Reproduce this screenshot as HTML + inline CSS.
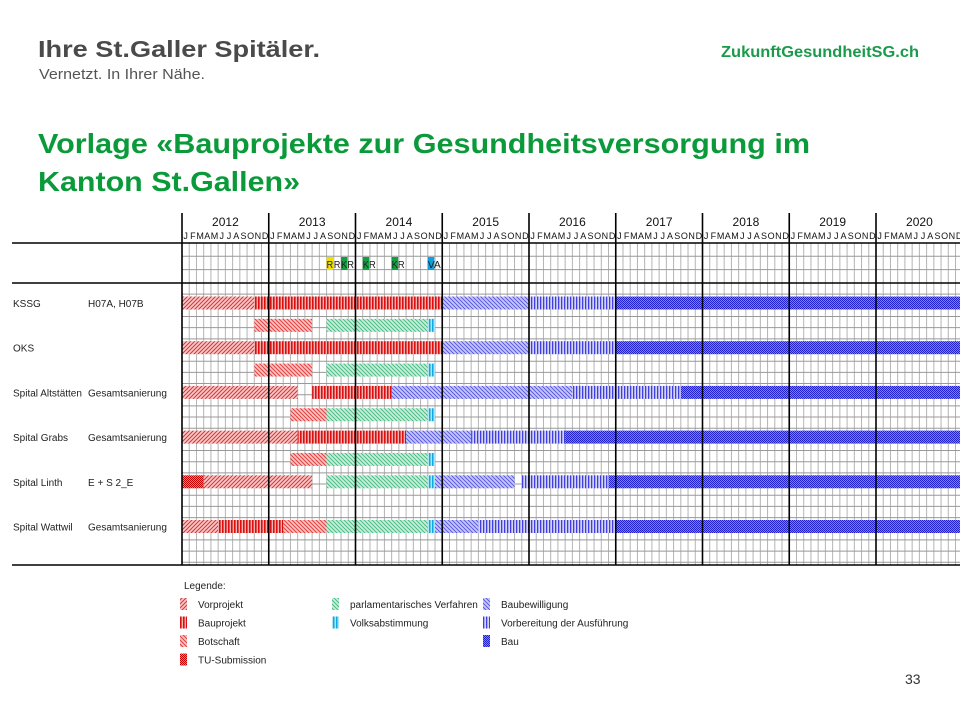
<!DOCTYPE html>
<html><head><meta charset="utf-8"><style>
html,body{margin:0;padding:0;background:#fff;width:960px;height:720px;overflow:hidden}
svg{display:block;font-family:"Liberation Sans",sans-serif}
</style></head><body>
<svg id="s" width="960" height="720" viewBox="0 0 960 720" xmlns="http://www.w3.org/2000/svg">
<defs>
<pattern id="p-vorprojekt" width="4" height="4" patternUnits="userSpaceOnUse"><rect width="4" height="4" fill="#f6c9c9"/><path d="M-1,1 L1,-1 M0,4 L4,0 M3,5 L5,3" stroke="#e03030" stroke-width="1"/></pattern>
<pattern id="p-bauprojekt" width="3" height="4" patternUnits="userSpaceOnUse"><rect width="3" height="4" fill="#f4b0b0"/><rect width="1.6" height="4" fill="#d81010"/></pattern>
<pattern id="p-botschaft" width="4" height="4" patternUnits="userSpaceOnUse"><rect width="4" height="4" fill="#f7c4c4"/><path d="M-1,3 L1,5 M0,0 L4,4 M3,-1 L5,1" stroke="#e04040" stroke-width="1"/></pattern>
<pattern id="p-tu" width="2" height="2" patternUnits="userSpaceOnUse"><rect width="2" height="2" fill="#f08080"/><rect width="1" height="1" fill="#c80000"/><rect x="1" y="1" width="1" height="1" fill="#c80000"/></pattern>
<pattern id="p-parl" width="4" height="4" patternUnits="userSpaceOnUse"><rect width="4" height="4" fill="#c9ecd9"/><path d="M-1,3 L1,5 M0,0 L4,4 M3,-1 L5,1" stroke="#40b880" stroke-width="0.9"/></pattern>
<pattern id="p-volks" width="3" height="4" patternUnits="userSpaceOnUse"><rect width="3" height="4" fill="#b0e4f4"/><rect width="1.5" height="4" fill="#10a8e0"/></pattern>
<pattern id="p-baubew" width="4" height="4" patternUnits="userSpaceOnUse"><rect width="4" height="4" fill="#c6c6f4"/><path d="M-1,3 L1,5 M0,0 L4,4 M3,-1 L5,1" stroke="#5050e0" stroke-width="0.9"/></pattern>
<pattern id="p-vorber" width="3" height="4" patternUnits="userSpaceOnUse"><rect width="3" height="4" fill="#d4d4f8"/><rect width="1.3" height="4" fill="#4040e0"/></pattern>
<pattern id="p-bau" width="2" height="2" patternUnits="userSpaceOnUse"><rect width="2" height="2" fill="#8080f0"/><rect width="1" height="1" fill="#2020d0"/><rect x="1" y="1" width="1" height="1" fill="#2020d0"/></pattern>
</defs>
<text x="38" y="57" font-size="23" font-weight="bold" fill="#4a4a4a" textLength="282" lengthAdjust="spacingAndGlyphs">Ihre St.Galler Spitäler.</text>
<text x="39" y="79" font-size="15" fill="#555" textLength="166" lengthAdjust="spacingAndGlyphs">Vernetzt. In Ihrer Nähe.</text>
<text x="721" y="57" font-size="16" font-weight="bold" fill="#1a9a4a" textLength="198" lengthAdjust="spacingAndGlyphs">ZukunftGesundheitSG.ch</text>
<text x="38" y="153" font-size="28" font-weight="bold" fill="#0a9a3a" textLength="772" lengthAdjust="spacingAndGlyphs">Vorlage «Bauprojekte zur Gesundheitsversorgung im</text>
<text x="38" y="191" font-size="28" font-weight="bold" fill="#0a9a3a" textLength="262" lengthAdjust="spacingAndGlyphs">Kanton St.Gallen»</text>
<g id="chart"></g>
<text x="905" y="684" font-size="14" fill="#333">33</text>
</svg>
<script>
const years = ["2012","2013","2014","2015","2016","2017","2018","2019","2020"];
const monthLetters = ["J","F","M","A","M","J","J","A","S","O","N","D"];
const projects = ["KSSG","OKS","Spital Altstätten","Spital Grabs","Spital Linth","Spital Wattwil"];
const projectNotes = ["H07A, H07B","","Gesamtsanierung","Gesamtsanierung","E + S 2_E","Gesamtsanierung"];
// tasks: [row index, phase, start month (0=Jan 2012), end month]
const taskRows = [0,0,0,0,0, 1,1,1, 2,2,2,2,2, 3,3,3, 4,4,4,4,4, 5,5,5, 6,6,6,6,6, 7,7,7, 8,8,8,8,8,8,8, 10,10,10,10,10,10,10,10];
const taskPhases = ["vorprojekt","bauprojekt","baubew","vorber","bau", "botschaft","parl","volks",
 "vorprojekt","bauprojekt","baubew","vorber","bau", "botschaft","parl","volks",
 "vorprojekt","bauprojekt","baubew","vorber","bau", "botschaft","parl","volks",
 "vorprojekt","bauprojekt","baubew","vorber","bau", "botschaft","parl","volks",
 "tu","vorprojekt","parl","volks","baubew","vorber","bau",
 "vorprojekt","bauprojekt","botschaft","parl","volks","baubew","vorber","bau"];
const taskStarts = [0,10,36,48,60, 10,20,34, 0,10,36,48,60, 10,20,34, 0,18,29,54,69, 15,20,34, 0,16,31,40,53, 15,20,34, 0,3,20,34,35,47,59, 0,5,14,20,34,35,41,60];
const taskEnds = [10,36,48,60,108, 18,34,35, 10,36,48,60,108, 18,34,35, 16,29,54,69,108, 20,34,35, 16,31,40,53,108, 20,34,35, 3,18,34,35,46,59,108, 5,14,20,34,35,41,60,108];
const markerMonths = [20,21,22,25,29,34];
const markerLabels = ["R","R","K","K","K","V"];
const markerSuffix = ["","","R","R","R","A"];
const markerColors = ["#f0e000","","#10a040","#10a040","#10a040","#10a0e0"];
const legendNames = ["Vorprojekt","Bauprojekt","Botschaft","TU-Submission","parlamentarisches Verfahren","Volksabstimmung","Baubewilligung","Vorbereitung der Ausführung","Bau"];
const legendKeys = ["vorprojekt","bauprojekt","botschaft","tu","parl","volks","baubew","vorber","bau"];

const NS="http://www.w3.org/2000/svg";
const g=document.getElementById('chart');
const X0=182, MW=86.75/12, TOP=213, BOT=565, HL=243, HL2=283;
const xm=m=>X0+m*MW;
const rowY=i=>303+i*22.35;
function mk(tag,attrs,parent){const e=document.createElementNS(NS,tag);for(const k in attrs)e.setAttribute(k,attrs[k]);(parent||g).appendChild(e);return e;}
for(let m=0;m<=108;m++){const x=xm(m);if(x>960)break;
 const l=mk('line',{x1:x,x2:x,y1:HL,y2:BOT,stroke:'#b4b4b4','stroke-width':1});
 
 }
for(let y=HL+13.3;y<HL2-1;y+=13.3){const l=mk('line',{x1:X0,x2:960,y1:y,y2:y,stroke:'#999','stroke-width':1});
 
 }
for(let y=HL2+11.17;y<BOT-2;y+=11.17){const l=mk('line',{x1:X0,x2:960,y1:y,y2:y,stroke:'#999','stroke-width':1});
 
 }
for(let i=0;i<taskRows.length;i++){
 const y=rowY(taskRows[i]);
 const r=mk('rect',{x:xm(taskStarts[i]),y:y-6.5,width:Math.min(xm(taskEnds[i]),960)-xm(taskStarts[i]),height:13,fill:'url(#p-'+taskPhases[i]+')'});
 
 }
years.forEach((yr,i)=>{const x=xm(i*12);
 const l=mk('line',{x1:x,x2:x,y1:TOP,y2:BOT,stroke:'#000','stroke-width':1.6});
 
 
 const t=mk('text',{x:x+43.4,y:226,'font-size':12,'text-anchor':'middle',fill:'#111'});t.textContent=yr;
 
 
 monthLetters.forEach((ml,j)=>{const tx=mk('text',{x:xm(i*12+j)+MW/2,y:239,'font-size':9,'text-anchor':'middle',fill:'#111'});tx.textContent=ml;
  
  });
});
[HL,HL2,BOT].forEach(y=>{const l=mk('line',{x1:12,x2:960,y1:y,y2:y,stroke:'#000','stroke-width':1.6});
 
 });
markerMonths.forEach((m,i)=>{const x=xm(m);
 if(markerColors[i]){const r=mk('rect',{x:x,y:257,width:6.5,height:13,fill:markerColors[i]});
  
  }
 const t=mk('text',{x:x,y:268,'font-size':10,fill:'#222',textLength:(markerSuffix[i]?13:6.5),lengthAdjust:'spacingAndGlyphs'});t.textContent=markerLabels[i]+markerSuffix[i];
 
 });
projects.forEach((p,i)=>{const y=rowY(i*2)+4;
 const t=mk('text',{x:13,y:y,'font-size':10,fill:'#222'});t.textContent=p;
 
 
 if(projectNotes[i]){const n=mk('text',{x:88,y:y,'font-size':10,fill:'#222'});n.textContent=projectNotes[i];
  
  }});
const lt=mk('text',{x:184,y:589,'font-size':10,fill:'#222'});lt.textContent='Legende:';


const cols=[[180,0],[180,1],[180,2],[180,3],[332,0],[332,1],[483,0],[483,1],[483,2]];
legendNames.forEach((n,i)=>{const x=cols[i][0],y=598+cols[i][1]*18.5;
 const r=mk('rect',{x:x,y:y,width:7,height:12,fill:'url(#p-'+legendKeys[i]+')'});
 
 
 const t=mk('text',{x:x+18,y:y+10,'font-size':10,fill:'#222'});t.textContent=n;
 
 });
</script>
</body></html>
